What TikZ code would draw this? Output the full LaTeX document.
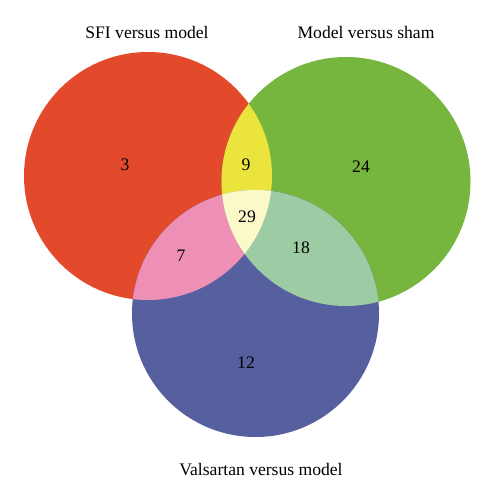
\documentclass[tikz,border=0pt]{standalone}
\usepackage{fontspec}
\setmainfont{Liberation Serif}
\definecolor{sfired}{HTML}{E34A2C}
\definecolor{shamgreen}{HTML}{76B53E}
\definecolor{valblue}{HTML}{56609F}
\definecolor{rgyellow}{HTML}{EBE43C}
\definecolor{rbpink}{HTML}{EE8FB6}
\definecolor{gbgreen}{HTML}{9CCBA4}
\definecolor{allcream}{HTML}{FBF8C9}
\tikzset{
  setlabel/.style={font=\fontsize{17.6}{20}\selectfont},
  count/.style={font=\fontsize{17.6}{20}\selectfont}
}
\begin{document}
\begin{tikzpicture}[x=1pt,y=-1pt]
    \useasboundingbox (0,0) rectangle (494,500);
    \fill [sfired] (148,176) circle (124) ;
    \fill [shamgreen] (346,181.5) circle (124.5) ;
    \fill [valblue] (255.5,313.5) circle (123.5) ;

    \begin{scope}
      \clip (148,176) circle (124) ;
      \fill [rgyellow] (346,181.5) circle (124.5) ;
      \fill [rbpink] (255.5,313.5) circle (123.5) ;
    \end{scope}
    \begin{scope}
      \clip (346,181.5) circle (124.5) ;
      \fill [gbgreen] (255.5,313.5) circle (123.5) ;
      \clip (255.5,313.5) circle (123.5) ;
      \fill [allcream] (148,176) circle (124) ;
    \end{scope}

    \node [setlabel] (sfi) at (147,32) {SFI versus model} ;
    \node [setlabel] (sham) at (366,32) {Model versus sham} ;
    \node [setlabel] (val) at (261,470) {Valsartan versus model} ;

    \node [count] (onlysfi) at (125,165) {3} ;
    \node [count] (sfisham) at (246,165) {9} ;
    \node [count] (onlysham) at (361,167) {24} ;
    \node [count] (all) at (247,217) {29} ;
    \node [count] (sfival) at (181,256) {7} ;
    \node [count] (shamval) at (301,248) {18} ;
    \node [count] (onlyval) at (246,363) {12} ;
\end{tikzpicture}
\end{document}
